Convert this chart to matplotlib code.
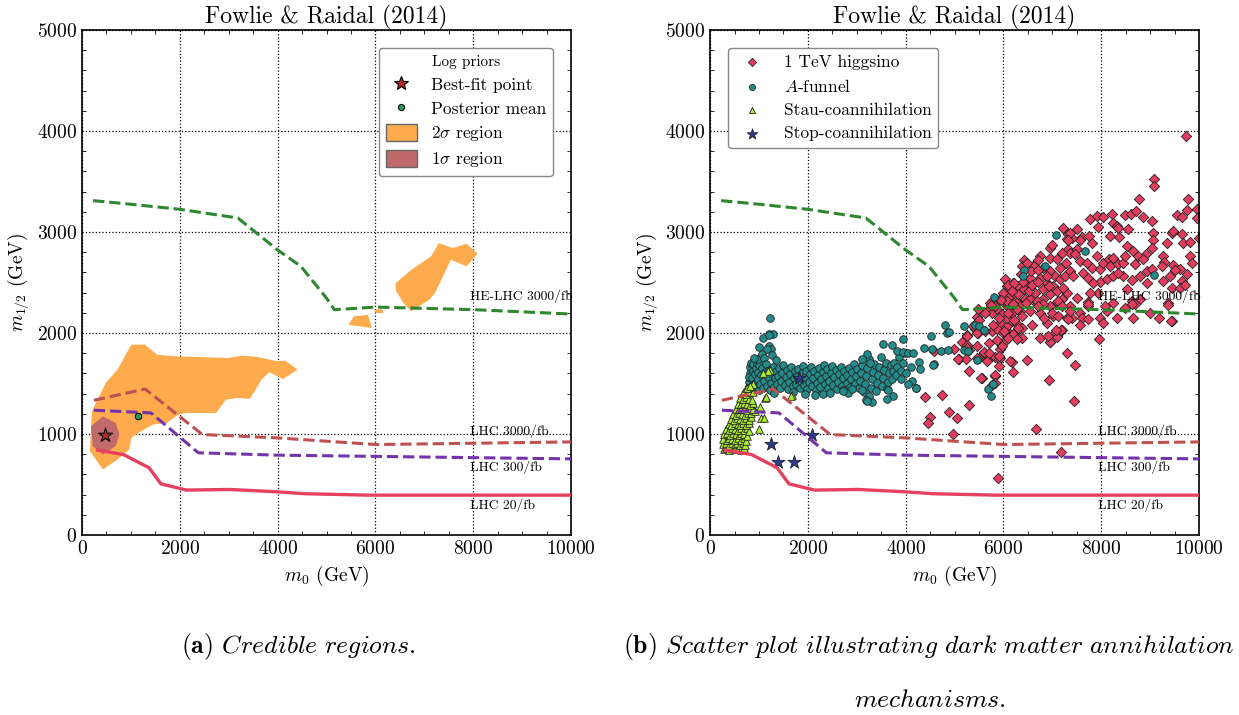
import matplotlib
matplotlib.use('Agg')
import matplotlib.pyplot as plt
from matplotlib.ticker import MultipleLocator
from matplotlib.lines import Line2D
from matplotlib.patches import Patch

plt.rcParams['font.family'] = 'serif'
plt.rcParams['font.serif'] = ['cmr10']
plt.rcParams['mathtext.fontset'] = 'cm'
plt.rcParams['axes.formatter.use_mathtext'] = True

# reach curves (m0, m1/2)
he_m0 = [226, 1000, 2000, 3186, 3992, 4476, 5000, 5161, 6008, 8025, 10000]
he_m12 = [3311, 3275, 3225, 3139, 2825, 2660, 2345, 2231, 2257, 2231, 2188]
lhc3000_m0 = [242, 1290, 2460, 3992, 6008, 10000]
lhc3000_m12 = [1334, 1446, 995, 962, 896, 922]
lhc300_m0 = [242, 1411, 2379, 3992, 10000]
lhc300_m12 = [1236, 1209, 814, 791, 754]
lhc20_m0 = [323, 847, 1371, 1613, 2137, 3024, 3992, 4557, 5847, 10000]
lhc20_m12 = [840, 797, 666, 507, 445, 451, 428, 409, 395, 395]
curve_labels = ['HE-LHC 3000/fb', 'LHC 3000/fb', 'LHC 300/fb', 'LHC 20/fb']
label_m12 = [2369, 1025, 672, 293]

# credible regions (left)
sig2_main_m0 = [427, 161, 202, 484, 726, 1008, 1290, 1532, 1936, 2984, 3266, 3589, 3992, 4153,
                4411, 4113, 3831, 3669, 3508, 3428, 3186, 2944, 2742, 2460, 2137, 1976, 1734,
                1452, 1210, 1008, 968, 726]
sig2_main_m12 = [649, 830, 1226, 1506, 1638, 1885, 1885, 1786, 1769, 1753, 1776, 1763, 1720, 1727,
                 1638, 1545, 1611, 1539, 1407, 1348, 1357, 1341, 1209, 1209, 1209, 1193, 1110,
                 1094, 1028, 962, 847, 748]
sig2_a_m0 = [5444, 5565, 5847, 5928]
sig2_a_m12 = [2082, 2165, 2181, 2049]
sig2_b_m0 = [5968, 6129, 6169, 6008]
sig2_b_m12 = [2231, 2237, 2198, 2198]
sig2_c_m0 = [6412, 6734, 7137, 7298, 7581, 7863, 8089, 7863, 7541, 7218, 7097, 6734, 6573, 6420]
sig2_c_m12 = [2494, 2626, 2759, 2891, 2841, 2884, 2785, 2660, 2726, 2395, 2329, 2214, 2296, 2420]
sig1_m0 = [185, 427, 686, 766, 686, 427, 218]
sig1_m12 = [1077, 1176, 1110, 995, 880, 797, 880]
best_fit = (460, 988)
post_mean = (1145, 1176)

# scatter (right)
higgsino = [
    (9734, 3951), (9086, 3529), (9086, 3456), (9782, 3331), (8773, 3331), (7771, 3133), (7907, 3159),
    (8043, 3152), (8214, 3176), (8486, 3166), (8602, 3182), (8711, 3205), (8848, 3149), (9032, 3106),
    (9543, 3166), (9645, 3152), (9761, 3218), (9952, 3232), (9952, 3142), (7941, 3053), (8234, 3093),
    (8316, 3060), (8350, 3037), (8555, 3027), (7212, 3043), (7512, 3027), (7327, 2977), (7396, 2944),
    (7600, 2954), (7566, 2921), (7757, 2961), (7805, 2888), (8180, 2961), (8364, 2954), (8520, 2862),
    (8657, 2812), (8916, 2779), (9052, 2987), (9066, 2918), (9032, 2845), (9338, 2895), (9441, 2994),
    (9475, 3010), (9645, 2977), (9666, 2895), (9816, 2901), (9990, 2944), (9270, 2763), (9284, 2704),
    (9236, 2664), (9475, 2671), (9611, 2631), (9748, 2582), (9816, 2763), (9850, 2697), (6953, 2845),
    (6987, 2869), (7294, 2928), (7327, 2829), (7498, 2829), (7362, 2796), (7191, 2789), (6748, 2763),
    (6952, 2747), (7089, 2730), (7464, 2779), (7566, 2713), (7703, 2697), (7907, 2763), (7805, 2647),
    (7975, 2631), (8043, 2697), (8166, 2730), (8248, 2746), (8180, 2664), (8350, 2680), (8439, 2697),
    (8486, 2763), (8691, 2680), (8759, 2763), (8861, 2730), (8930, 2614), (9032, 2631), (8452, 2565),
    (8623, 2525), (8793, 2565), (8930, 2499), (7975, 2506), (8111, 2532), (8248, 2565), (8350, 2591),
    (7634, 2598), (7737, 2549), (7839, 2499), (7941, 2400), (7771, 2400), (7737, 2308), (7498, 2351),
    (7294, 2400), (9270, 2516), (9406, 2565), (9509, 2624), (9645, 2516), (9441, 2450), (9611, 2450),
    (9713, 2473), (8520, 2433), (8623, 2318), (8793, 2334), (6612, 2664), (6544, 2549), (6475, 2466),
    (6816, 2647), (6953, 2614), (7055, 2565), (7157, 2532), (7259, 2565), (7362, 2614), (7430, 2565),
    (6748, 2549), (6884, 2499), (7021, 2466), (6816, 2433), (6953, 2384), (7089, 2417), (7225, 2450),
    (6646, 2400), (6441, 2334), (6305, 2466), (6203, 2499), (6066, 2466), (5998, 2400), (6135, 2367),
    (6271, 2308), (6544, 2334), (6680, 2285), (6816, 2334), (6953, 2268), (7089, 2308), (7191, 2334),
    (7362, 2268), (7566, 2202), (7737, 2268), (8111, 2219), (8657, 2153), (8998, 2202), (6033, 2532),
    (6748, 2202), (7021, 2169), (7294, 2153), (6339, 2219), (6066, 2268), (6706, 2726), (6625, 2660),
    (6424, 2726), (6383, 2660), (6101, 2478), (6222, 2494), (6222, 2395), (6424, 2435), (5899, 2329),
    (7351, 2990), (7311, 2924), (7737, 2285), (8248, 2301), (8486, 2252), (8691, 2285), (9373, 2294),
    (6066, 2301), (6203, 2235), (6680, 2318), (6339, 2268), (6816, 2285), (7123, 2318), (6987, 2202),
    (7123, 2169), (7396, 2153), (7600, 2153), (7737, 2136), (7975, 2153), (8043, 2103), (8316, 2153),
    (9182, 2153), (9441, 2120), (7327, 2136), (7566, 2077), (6884, 2103), (5930, 2103), (6066, 2070),
    (6169, 2120), (6271, 2087), (6373, 2054), (6237, 2004), (6135, 1988), (6373, 1955), (5930, 1905),
    (6748, 1955), (6953, 1915), (7089, 1971), (7191, 2030), (7055, 2004), (7961, 1938), (7294, 1806),
    (7464, 1681), (6939, 1532), (7450, 1327), (6169, 1717), (6203, 1615), (6475, 1730), (5930, 1839),
    (5930, 1757), (6666, 1047), (7178, 823), (5890, 565), (4396, 1370), (4737, 1387), (4499, 1172),
    (4465, 1106), (4894, 1222), (5058, 1163), (5303, 1291), (4976, 1000), (4580, 1823), (4996, 1846),
    (5098, 1740), (5146, 1912), (5262, 1882), (5303, 1832), (5235, 1747), (5507, 1756), (5603, 1816),
    (5712, 1905), (5691, 1747), (5828, 1766), (5916, 1747), (5555, 1558), (5828, 1575), (5760, 1483),
    (5262, 1978), (5487, 2004), (5419, 2037), (5467, 2162), (5658, 2219), (5760, 2202), (5862, 2235),
    (5964, 2186), (6066, 2153), (6169, 2202), (6271, 2235), (5760, 2021), (5862, 2037), (5998, 2004),
    (6101, 1971), (6203, 1988), (6271, 1938), (6033, 1922), (5487, 2242), (5726, 2301), (5828, 2268),
    (6066, 2318), (6203, 2285), (6141, 1720), (6948, 1908), (7093, 1960), (7174, 2026), (9434, 2115),
    (9369, 2280), (8627, 2287), (8078, 2264), (5940, 2329), (5738, 2280), (5617, 2198), (5496, 2132),
    (5375, 2066), (5455, 2000), (5253, 1967), (5617, 2016), (5778, 2082), (5899, 2148), (6101, 2198),
    (6222, 2132), (6303, 2049), (6020, 2016), (5859, 1934), (6101, 1951), (6383, 2165), (6545, 2214),
    (6706, 2264), (6464, 2297), (6827, 2148), (6585, 2082), (6908, 1967), (7069, 2033), (7190, 2264),
    (7352, 2214), (5455, 1868), (5253, 1852), (5076, 1743), (5294, 1621), (5536, 1555), (5818, 1588),
    (5818, 1506), (5657, 1720), (5455, 1753), (5697, 1802), (5899, 1769), (5964, 1868), (5899, 1670),
    (6520, 2420), (6590, 2480), (6700, 2510), (6880, 2560), (6290, 2390), (6400, 2510), (6560, 2610),
    (6930, 2470), (7150, 2640), (7280, 2690), (6180, 2420), (6350, 2580), (6480, 2690), (6700, 2620),
]
a_funnel = [
    (790, 1450), (800, 1520), (810, 1600), (820, 1660), (790, 1560), (830, 1700), (850, 1480), (860, 1550),
    (870, 1620), (880, 1690), (900, 1440), (910, 1510), (920, 1590), (935, 1650), (950, 1700), (960, 1470),
    (975, 1540), (990, 1610), (1000, 1680), (1010, 1440), (990, 1740), (1060, 1790), (1000, 1860),
    (1090, 1955), (1195, 1870), (1240, 1845), (1260, 1780), (1215, 1988), (1295, 1988), (1220, 2148),
    (1200, 1985), (1155, 1842), (1340, 1736), (1100, 1753), (900, 1753),
    (1030, 1500), (1050, 1580), (1070, 1650), (1090, 1460), (1110, 1530), (1120, 1610), (1140, 1690),
    (1160, 1480), (1180, 1560), (1200, 1630), (1220, 1440), (1240, 1510), (1260, 1590), (1280, 1660),
    (1300, 1470), (1320, 1550), (1340, 1620), (1370, 1500), (1390, 1570), (1410, 1650), (1440, 1460),
    (1460, 1530), (1480, 1600), (1500, 1680), (1530, 1490), (1550, 1560), (1570, 1630), (1600, 1450),
    (1620, 1520), (1640, 1590), (1660, 1660), (1690, 1480), (1710, 1550), (1730, 1620), (1760, 1500),
    (1780, 1570), (1800, 1640), (1830, 1460), (1850, 1530), (1870, 1600), (1900, 1670), (1920, 1490),
    (1940, 1560), (1970, 1620), (1990, 1450),
    (2020, 1520), (2040, 1590), (2060, 1660), (2090, 1480), (2110, 1550), (2130, 1620), (2160, 1440),
    (2180, 1510), (2200, 1580), (2230, 1650), (2250, 1470), (2270, 1540), (2300, 1610), (2320, 1680),
    (2350, 1500), (2370, 1570), (2400, 1640), (2420, 1460), (2440, 1530), (2470, 1600), (2490, 1670),
    (2520, 1490), (2540, 1560), (2570, 1630), (2590, 1450), (2620, 1520), (2640, 1590), (2670, 1660),
    (2690, 1480), (2710, 1550), (2740, 1620), (2760, 1440), (2790, 1510), (2810, 1580), (2840, 1650),
    (2860, 1470), (2880, 1540), (2910, 1610), (2940, 1690), (2960, 1500), (2980, 1570),
    (1950, 1400), (2150, 1390), (2300, 1400), (2710, 1440), (2830, 1407), (2450, 1410), (1700, 1420),
    (1300, 1410),
    (3010, 1640), (3040, 1460), (3060, 1530), (3090, 1600), (3110, 1680), (3140, 1420), (3160, 1500),
    (3190, 1570), (3210, 1650), (3240, 1740), (3260, 1380), (3290, 1460), (3310, 1540), (3340, 1610),
    (3360, 1690), (3390, 1430), (3410, 1510), (3440, 1580), (3460, 1660), (3490, 1760), (3510, 1480),
    (3540, 1550), (3560, 1630), (3590, 1700), (3610, 1450), (3640, 1520), (3660, 1600), (3690, 1680),
    (3720, 1540), (3740, 1620), (3770, 1700), (3800, 1580), (3830, 1660), (3860, 1760), (3900, 1620),
    (3940, 1700), (3980, 1800), (3200, 1790), (3100, 1740), (3270, 1707), (3196, 1341), (3317, 1315),
    (3640, 1440), (3750, 1376), (3610, 1344), (2727, 1427), (2897, 1443), (3102, 1433), (3204, 1328),
    (3545, 1888), (3715, 1878), (3817, 1822), (3953, 1812), (4056, 1799), (4158, 1799), (3953, 1938),
    (4383, 1855), (4280, 1713), (4294, 1641), (4213, 1452), (4124, 1522), (4204, 1456), (4000, 1600),
    (4100, 1660), (3900, 1540), (4050, 1500),
    (4530, 1845), (4730, 1822), (4870, 1828), (4580, 1690), (4520, 1970), (4806, 2076), (4853, 1997),
    (4894, 2010), (5194, 2069), (5194, 1835), (5283, 1822), (5419, 2076), (5500, 2066), (5603, 2033),
    (5692, 1443), (5794, 1492), (5740, 1380), (5455, 1736), (4568, 1687),
    (5802, 2352), (6424, 2626), (6400, 2567), (6851, 2660), (7069, 2974), (7675, 2808), (9087, 2577),
]
stau = [
    (280, 850), (335, 862), (392, 845), (448, 857), (512, 848), (568, 862), (628, 846), (688, 857),
    (270, 902), (322, 908), (378, 893), (441, 912), (503, 898), (557, 907), (622, 893), (679, 913), (718, 888),
    (274, 952), (336, 943), (397, 962), (452, 948), (517, 938), (573, 957), (637, 943), (701, 962), (742, 928),
    (287, 1003), (342, 1007), (401, 988), (462, 1012), (521, 998), (582, 993), (641, 1012), (703, 998), (757, 983),
    (333, 1052), (392, 1043), (451, 1062), (508, 1048), (572, 1038), (628, 1057), (692, 1043), (748, 1062), (792, 1028),
    (382, 1102), (438, 1093), (502, 1112), (561, 1098), (618, 1088), (682, 1107), (742, 1093), (801, 1112),
    (1002, 1047), (1036, 1162), (1104, 1158),
    (432, 1148), (488, 1143), (552, 1162), (612, 1148), (668, 1138), (732, 1157), (788, 1143), (832, 1172),
    (472, 1202), (533, 1193), (591, 1212), (652, 1198), (708, 1188), (772, 1207), (842, 1212), (920, 1228),
    (1022, 1271), (818, 1261),
    (522, 1248), (583, 1243), (638, 1262), (702, 1248), (762, 1238), (822, 1257), (878, 1248),
    (572, 1302), (632, 1293), (688, 1312), (752, 1298), (812, 1288), (868, 1307),
    (622, 1352), (682, 1343), (738, 1362), (802, 1348), (858, 1338), (1125, 1360), (1138, 1367),
    (683, 1402), (742, 1393), (801, 1412), (886, 1416), (1683, 1386), (1662, 1380),
    (732, 1452), (792, 1462), (752, 1459), (873, 1492), (815, 1473), (1219, 1631), (1193, 1624), (1090, 1608),
]
stop = [(1241, 898), (1397, 727), (1718, 727), (2086, 987), (1820, 1558)]

RED = '#e23c5e'
TEAL = '#238b8b'
LIME = '#aef02e'
NAVY = '#2c3a8f'


def base_axes(ax):
    ax.set_xlim(0, 10000)
    ax.set_ylim(0, 5000)
    ax.set_xticks(range(0, 10001, 2000))
    ax.set_yticks(range(0, 5001, 1000))
    ax.xaxis.set_minor_locator(MultipleLocator(500))
    ax.yaxis.set_minor_locator(MultipleLocator(200))
    ax.tick_params(which='both', direction='in', top=True, right=True, labelsize=14)
    ax.tick_params(which='major', length=0)
    ax.tick_params(which='minor', length=3)
    ax.grid(True, which='major', ls=':', color='black', lw=0.9)
    ax.set_axisbelow(True)
    ax.set_xlabel(r'$m_0$ (GeV)', fontsize=14)
    ax.set_ylabel(r'$m_{1/2}$ (GeV)', fontsize=14)
    ax.set_title('Fowlie & Raidal (2014)', fontsize=17, pad=3)
    for s in ax.spines.values():
        s.set_linewidth(1.2)


def reach_curves(ax):
    ax.plot(he_m0, he_m12, ls='--', color='#2e862e', lw=2.2, zorder=5)
    ax.plot(lhc3000_m0, lhc3000_m12, ls='--', color='#bf5050', lw=2.2, zorder=5)
    ax.plot(lhc300_m0, lhc300_m12, ls='--', color='#7433a8', lw=2.2, zorder=5)
    ax.plot(lhc20_m0, lhc20_m12, ls='-', color='#e5405f', lw=2.4, zorder=5)
    for lab, y in zip(curve_labels, label_m12):
        ax.text(7930, y, lab, fontsize=9.8, va='center', ha='left', zorder=6)


fig = plt.figure(figsize=(12.39, 7.15), dpi=100)
ax1 = fig.add_axes([0.0662, 0.2517, 0.3947, 0.7063])
ax2 = fig.add_axes([0.5731, 0.2517, 0.3947, 0.7063])

# left panel
base_axes(ax1)
ORANGE = '#fdab4c'
BROWN = '#c06a6c'
ax1.fill(sig2_main_m0, sig2_main_m12, color=ORANGE, lw=0, zorder=2)
ax1.fill(sig2_a_m0, sig2_a_m12, color=ORANGE, lw=0, zorder=2)
ax1.fill(sig2_b_m0, sig2_b_m12, color=ORANGE, lw=0, zorder=2)
ax1.fill(sig2_c_m0, sig2_c_m12, color=ORANGE, lw=0, zorder=2)
ax1.fill(sig1_m0, sig1_m12, color=BROWN, lw=0, zorder=3)
reach_curves(ax1)
ax1.scatter([best_fit[0]], [best_fit[1]], marker='*', s=110, c='#b52828', edgecolors='black',
            linewidths=0.8, zorder=7)
ax1.scatter([post_mean[0]], [post_mean[1]], marker='o', s=22, c='#2e9a5a', edgecolors='black',
            linewidths=0.7, zorder=7)
h1 = [Line2D([], [], marker='*', ls='', ms=10, mfc='#b52828', mec='black', mew=0.8),
      Line2D([], [], marker='o', ls='', ms=4.5, mfc='#2e9a5a', mec='black', mew=0.7),
      Patch(fc=ORANGE, ec='#666666'),
      Patch(fc=BROWN, ec='#666666')]
leg1 = ax1.legend(h1, ['Best-fit point', 'Posterior mean', r'$2\sigma$ region', r'$1\sigma$ region'],
                  title='Log priors', loc='upper right', fontsize=12.5, title_fontsize=11,
                  bbox_to_anchor=(0.963, 0.965), borderaxespad=0, framealpha=1,
                  edgecolor='#888888', handleheight=1.1, handlelength=1.8, labelspacing=0.4)
leg1.set_zorder(10)

# right panel
base_axes(ax2)
ax2.scatter([p[0] for p in higgsino], [p[1] for p in higgsino], marker='D', s=28, c=RED,
            edgecolors='#222222', linewidths=0.6, zorder=2, label='1 TeV higgsino')
ax2.scatter([p[0] for p in a_funnel], [p[1] for p in a_funnel], marker='o', s=30, c=TEAL,
            edgecolors='#222222', linewidths=0.6, zorder=2.1, label=r'$A$-funnel')
ax2.scatter([p[0] for p in stau], [p[1] for p in stau], marker='^', s=30, c=LIME,
            edgecolors='#222222', linewidths=0.6, zorder=2.2, label='Stau-coannihilation')
ax2.scatter([p[0] for p in stop], [p[1] for p in stop], marker='*', s=100, c=NAVY,
            edgecolors='#222222', linewidths=0.6, zorder=2.3, label='Stop-coannihilation')
reach_curves(ax2)
leg2 = ax2.legend(loc='upper left', fontsize=12.5, scatterpoints=1, bbox_to_anchor=(0.037, 0.965),
                  borderaxespad=0, framealpha=1, edgecolor='#888888', markerscale=0.8,
                  labelspacing=0.45)
leg2.set_zorder(10)

# captions
fig.text(181 / 1239, 1 - 647 / 715, r'$\mathbf{(a)}$ $\mathit{Credible\ regions.}$',
         fontsize=18.5, ha='left', va='center')
fig.text(623 / 1239, 1 - 647 / 715,
         r'$\mathbf{(b)}$ $\mathit{Scatter\ plot\ illustrating\ dark\ matter\ annihilation}$',
         fontsize=18.5, ha='left', va='center')
fig.text(930 / 1239, 1 - 700 / 715, r'$\mathit{mechanisms.}$', fontsize=18.5, ha='center', va='center')

fig.savefig('out.png', dpi=100)
